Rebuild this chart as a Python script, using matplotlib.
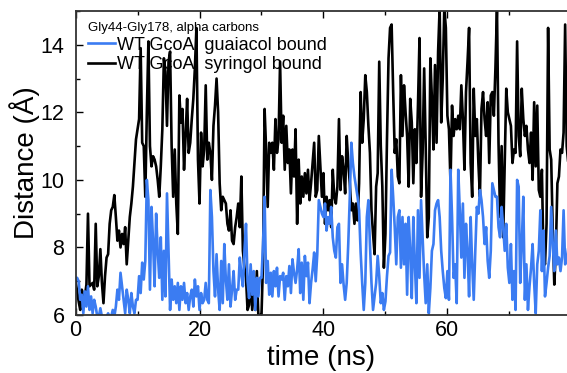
import numpy as np
import matplotlib
matplotlib.use('Agg')
import matplotlib.pyplot as plt
from matplotlib.ticker import MultipleLocator

plt.rcParams['font.family'] = ['Liberation Sans', 'DejaVu Sans']

# Gly44-Gly178 alpha carbon distance (Angstrom), one value every 0.25 ns
step_ns = 0.25
guaiacol = [
    7.1, 7.1, 7.0, 6.45, 6.6, 6.05, 6.7, 6.25, 6.85, 6.15, 6.55, 6.05, 6.45, 6.25, 5.95, 5.95, 6.2, 5.95, 5.95, 5.9,
    5.95, 6.05, 5.95, 5.95, 6.15, 5.95, 6.25, 6.75, 6.45, 7.25, 6.85, 6.45, 6.05, 6.75, 6.45, 6.05, 6.65, 6.25, 6.05, 6.45,
    6.45, 7.15, 6.65, 7.55, 7.05, 7.6, 10.0, 9.4, 6.75, 9.2, 8.2, 6.85, 9.0, 7.9, 7.1, 8.3, 6.45, 7.9, 6.55, 9.6,
    7.9, 6.15, 7.05, 6.45, 6.85, 6.35, 6.95, 6.15, 6.85, 6.45, 6.95, 6.35, 6.65, 6.15, 6.55, 6.75, 6.25, 7.05, 6.55, 6.85,
    6.15, 6.65, 6.35, 6.45, 6.95, 6.45, 6.35, 9.7, 8.9, 7.3, 6.55, 7.8, 6.75, 6.15, 7.6, 6.35, 8.1, 7.05, 6.45, 7.5,
    6.25, 6.75, 7.3, 6.45, 6.75, 6.75, 7.7, 7.2, 6.85, 7.9, 8.7, 7.0, 6.5, 7.5, 6.6, 7.3, 6.15, 7.1, 6.55, 7.1,
    7.1, 8.1, 9.5, 6.95, 7.6, 6.6, 7.25, 6.55, 7.3, 6.85, 7.4, 6.55, 7.15, 7.05, 7.25, 6.45, 7.15, 6.85, 7.45, 6.65,
    7.65, 7.25, 6.95, 7.35, 7.95, 6.65, 7.55, 6.45, 7.75, 7.15, 7.55, 6.35, 6.95, 7.35, 7.85, 7.0, 7.8, 9.4, 9.2, 9.0,
    8.9, 9.3, 8.5, 8.9, 8.7, 9.2, 8.3, 7.9, 7.7, 8.6, 8.7, 6.95, 7.5, 6.9, 6.45, 6.95, 8.1, 9.5, 11.1, 10.5,
    10.1, 9.8, 9.5, 9.1, 7.85, 6.95, 6.15, 6.95, 8.9, 9.4, 8.1, 6.95, 6.15, 6.55, 6.95, 7.75, 7.15, 6.35, 6.65, 6.15,
    6.4, 7.15, 7.75, 7.85, 10.3, 9.5, 8.6, 7.5, 8.9, 9.1, 7.4, 8.9, 7.5, 8.7, 6.6, 8.9, 7.9, 6.5, 8.9, 7.5,
    6.35, 9.1, 7.1, 9.4, 8.3, 7.2, 6.35, 7.5, 6.05, 6.8, 7.9, 8.1, 9.1, 9.3, 9.4, 8.9, 7.9, 7.3, 6.8, 6.5,
    7.3, 6.45, 10.3, 8.9, 7.1, 7.5, 6.35, 10.3, 9.1, 7.7, 9.3, 7.1, 8.7, 7.9, 6.55, 8.9, 7.5, 6.45, 7.9, 9.2,
    9.0, 9.7, 9.4, 8.9, 8.1, 8.6, 7.6, 7.1, 7.9, 9.9, 9.7, 9.5, 9.5, 8.6, 8.3, 9.2, 8.6, 7.9, 8.7, 7.4,
    6.95, 8.1, 6.45, 7.3, 6.15, 10.0, 9.8, 6.95, 8.1, 9.5, 6.45, 7.5, 6.15, 6.85, 7.4, 8.1, 6.95, 6.05, 7.5, 7.9,
    9.1, 7.3, 8.5, 6.55, 6.95, 7.4, 7.75, 9.2, 8.1, 7.3, 8.5, 7.5, 7.7, 7.3, 7.7, 9.1, 7.5, 7.6, 8.0, 8.2,
]
syringol = [
    7.0, 6.7, 6.4, 6.15, 6.75, 6.6, 6.55, 6.9, 9.0, 6.85, 6.9, 6.95, 6.75, 8.7, 6.85, 7.15, 7.95, 6.95, 6.35, 7.15,
    7.7, 7.8, 8.7, 9.1, 9.2, 9.55, 8.9, 8.2, 8.5, 8.0, 8.4, 8.1, 8.6, 7.5, 8.2, 8.9, 9.3, 9.8, 10.5, 11.2,
    11.5, 11.8, 13.9, 11.1, 11.0, 9.5, 12.0, 14.1, 11.0, 10.4, 10.7, 10.6, 10.4, 10.0, 9.5, 10.4, 11.5, 13.6, 13.2, 11.6,
    13.5, 13.8, 11.0, 9.5, 10.9, 9.3, 8.4, 12.5, 11.7, 12.1, 10.3, 11.3, 12.4, 10.8, 11.1, 11.8, 12.4, 13.3, 14.5, 10.6,
    9.3, 11.4, 10.4, 10.9, 12.8, 10.6, 11.1, 10.8, 10.0, 11.6, 12.2, 13.0, 12.0, 9.9, 9.1, 9.5, 9.4, 9.3, 8.7, 8.5,
    9.1, 8.2, 8.1, 8.6, 8.9, 9.3, 8.6, 10.1, 7.9, 7.4, 7.1, 6.15, 6.3, 7.3, 6.15, 7.1, 6.15, 7.3, 5.95, 6.0,
    6.0, 7.6, 12.1, 10.9, 9.2, 11.1, 10.8, 11.1, 10.3, 11.8, 10.8, 11.2, 13.5, 11.1, 11.9, 10.3, 11.6, 10.5, 10.9, 9.6,
    10.9, 10.1, 11.5, 8.7, 10.6, 9.3, 10.1, 9.5, 10.2, 9.6, 10.3, 9.4, 9.9, 10.5, 11.1, 9.5, 9.7, 11.3, 10.4, 9.5,
    10.2, 8.7, 9.5, 9.1, 9.4, 8.6, 10.3, 9.5, 9.3, 9.8, 11.8, 9.7, 10.7, 10.3, 9.6, 11.3, 10.5, 9.9, 9.1, 9.3,
    8.7, 9.3, 8.8, 9.9, 12.6, 11.1, 11.8, 13.1, 12.6, 11.6, 10.8, 9.1, 8.4, 7.8, 9.8, 10.2, 13.5, 11.0, 9.8, 7.4,
    8.4, 11.2, 13.6, 14.5, 14.6, 12.6, 10.8, 11.2, 10.1, 9.9, 13.1, 11.3, 12.8, 12.0, 11.3, 9.8, 12.4, 11.7, 9.9, 11.5,
    10.5, 12.2, 14.2, 9.5, 10.8, 13.3, 11.0, 8.3, 8.9, 13.6, 12.4, 10.9, 13.4, 11.1, 13.8, 15.1, 11.7, 13.0, 15.1, 14.5,
    11.9, 11.5, 9.9, 12.2, 11.3, 11.8, 11.5, 11.9, 11.5, 12.8, 11.8, 10.3, 12.6, 13.5, 14.5, 10.5, 9.5, 12.7, 11.3, 11.8,
    10.5, 9.5, 12.1, 12.6, 11.8, 11.3, 12.3, 10.5, 12.5, 12.6, 11.9, 13.3, 15.1, 11.1, 8.9, 11.0, 8.3, 10.5, 12.7, 12.0,
    11.8, 11.6, 10.5, 10.9, 10.8, 14.1, 11.3, 10.7, 12.7, 11.8, 11.3, 11.6, 10.9, 10.5, 11.4, 10.0, 12.3, 10.4, 12.2, 9.7,
    9.5, 10.3, 7.7, 7.5, 8.7, 14.5, 10.9, 10.6, 8.5, 6.9, 7.9, 9.9, 10.1, 10.9, 10.8, 11.4, 14.6, 11.0, 10.5, 10.5,
]
labels = ['WT GcoA, guaiacol bound', 'WT GcoA, syringol bound']
legend_title = 'Gly44-Gly178, alpha carbons'

time = np.arange(len(syringol)) * step_ns

fig = plt.figure(figsize=(5.67, 3.73), dpi=100)
ax = fig.add_axes([0.1333, 0.1555, 0.8667, 0.815])

l2, = ax.plot(time, syringol, color='black', lw=1.9)
l1, = ax.plot(time, guaiacol, color='#3b7cf2', lw=1.9)

ax.set_xlim(0, 79.3)
ax.set_ylim(6, 15)
ax.xaxis.set_major_locator(MultipleLocator(20))
ax.xaxis.set_minor_locator(MultipleLocator(10))
ax.yaxis.set_major_locator(MultipleLocator(2))
ax.yaxis.set_minor_locator(MultipleLocator(1))
ax.tick_params(which='both', direction='in', top=True, right=False,
               labelsize=15.5, width=1)
ax.tick_params(which='major', length=5)
ax.tick_params(which='minor', length=3)
ax.tick_params(axis='y', pad=8)
ax.spines['right'].set_visible(False)
for s in ['left', 'top', 'bottom']:
    ax.spines[s].set_linewidth(1.3)
    ax.spines[s].set_color('#333333')

ax.set_xlabel('time (ns)', fontsize=20, labelpad=3)
ax.set_ylabel('Distance (Å)', fontsize=20, labelpad=0)

leg = ax.legend([l1, l2], labels, loc='upper left', frameon=False,
                title=legend_title, title_fontsize=9.5, fontsize=13,
                handlelength=1.5, handletextpad=0.1, labelspacing=0.15,
                borderaxespad=0.2, bbox_to_anchor=(0.004, 1.0))
leg._legend_box.align = 'left'
for h in leg.legend_handles:
    h.set_linewidth(1.9)

fig.savefig('out.png', dpi=100)
